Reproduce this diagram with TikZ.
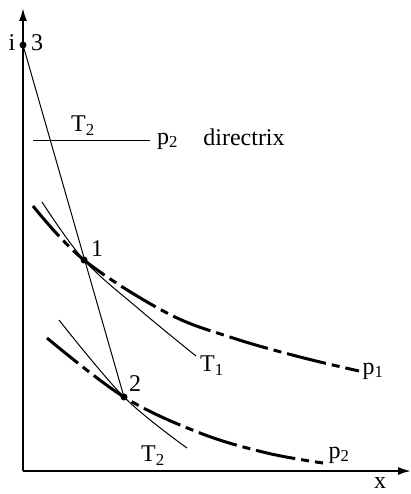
\documentclass[tikz,border=0pt]{standalone}
\usepackage{fontspec}
\setmainfont{Liberation Serif}
\usepackage{tikz}
\usetikzlibrary{arrows.meta, positioning}

\begin{document}
\begin{tikzpicture}[
        x=1pt, y=-1pt,
        every node/.style={font=\fontsize{24}{27}\selectfont, inner sep=0pt},
        dot/.style={circle, fill, minimum size=7pt},
        axis/.style={line width=1.8pt, -{Latex[length=13pt, width=8pt]}},
        thin/.style={line width=1pt},
        isobar/.style={line width=3pt, dash pattern=on 40pt off 6pt on 8pt off 6pt}
    ]
        \useasboundingbox (0,0) rectangle (411,494);
        \coordinate (origin) at (23,471);
        \coordinate (yEnd) at (23,8);
        \coordinate (xEnd) at (411,471);
        \draw[axis] (origin) -- (yEnd);
        \draw[axis] (origin) -- (xEnd);
        \node (xLab) at (380,483) {x};

        \node[dot] (pt3) at (23,45) {};
        \node[dot] (pt1) at (84,260) {};
        \node[dot] (pt2) at (124,397) {};
        \node (iLab) at (12,43) {i};
        \node (lab3) at (37,43) {3};
        \node (lab1) at (97,249) {1};
        \node (lab2) at (135,384) {2};

        \coordinate (dirStart) at (33,141);
        \coordinate (dirEnd) at (150,141);
        \draw[thin] (dirStart) -- (dirEnd);
        \node (dirT) at (83,126) {T\textsubscript{2}};
        \node[right=7pt of dirEnd] (dirP) {p\textsubscript{2}};
        \node (dirLab) at (244,137) {directrix};

        \draw[thin] (pt3.center) -- (pt2.center);

        \draw[isobar] plot[smooth, tension=0.6] coordinates {(33,206) (84,260) (167,313) (233,338) (300,357) (359,371)};
        \draw[thin] plot[smooth, tension=0.6] coordinates {(42,202) (84,260) (140,310) (196,356)};
        \draw[isobar] plot[smooth, tension=0.6] coordinates {(47,338) (124,397) (200,433) (267,453) (323,463)};
        \draw[thin] plot[smooth, tension=0.6] coordinates {(59,320) (124,397) (187,448)};

        \node (labT1) at (212,366) {T\textsubscript{1}};
        \node (labP1) at (373,371) {p\textsubscript{1}};
        \node (labT2) at (153,456) {T\textsubscript{2}};
        \node (labP2) at (339,455) {p\textsubscript{2}};
    \end{tikzpicture}
\end{document}
